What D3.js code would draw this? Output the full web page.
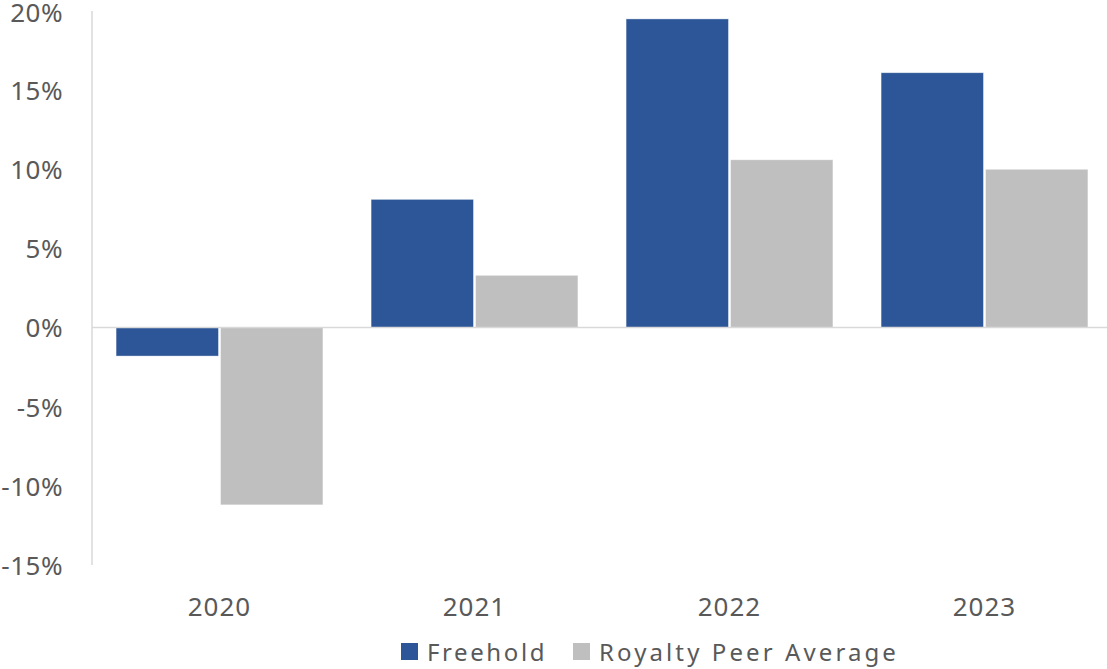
<!DOCTYPE html>
<html><head><meta charset="utf-8">
<script src="https://cdn.jsdelivr.net/npm/d3@7"></script>
<style>body{margin:0;background:#fff;} svg{display:block;}</style>
</head><body><svg id="c" width="1107" height="669"></svg>
<script>
const categories = ["2020","2021","2022","2023"];
const seriesNames = ["Freehold","Royalty Peer Average"];
const freehold = [-1.8, 8.1, 19.5, 16.1];
const royalty = [-11.2, 3.3, 10.6, 10.0];
const yTicks = [-15,-10,-5,0,5,10,15,20];
const colors = ["#2c5697","#bfbfbf"];

const svg = d3.select("#c");
const font = "'Noto Sans', 'Open Sans', sans-serif";
const textColor = "#595959";

const x0 = d3.scaleBand().domain(categories).range([92, 1112]).paddingInner(0).paddingOuter(0);
const x1 = d3.scaleBand().domain(seriesNames).range([22, 255-22]).padding(0.02);
const y = d3.scaleLinear().domain([-15, 20]).range([565, 11]);

const data = categories.map((c,i)=>({cat:c, vals:[freehold[i], royalty[i]]}));

// y axis line
svg.append("line").attr("x1",92).attr("x2",92).attr("y1",y(20)).attr("y2",y(-15))
  .attr("stroke","#d9d9d9").attr("stroke-width",1.5);

// y tick labels
const yAxis = d3.axisLeft(y).tickValues(yTicks).tickFormat(d=>d+"%").tickSize(0).tickPadding(0);
const yg = svg.append("g").attr("transform","translate(63,0)").call(yAxis);
yg.select(".domain").remove();
yg.selectAll("text").attr("font-family",font).attr("font-size",26).attr("fill",textColor)
  .attr("dy","0.36em").attr("letter-spacing",0.5);
yg.selectAll(".tick").filter(d=>d===20).select("text").attr("dy","0.42em");

// bars
const groups = svg.selectAll("g.grp").data(data).enter().append("g")
  .attr("transform",d=>`translate(${x0(d.cat)},0)`);
groups.selectAll("rect").data(d=>d.vals.map((v,j)=>({v,j}))).enter().append("rect")
  .attr("x",d=>x1(seriesNames[d.j]))
  .attr("width",x1.bandwidth())
  .attr("y",d=>y(Math.max(0,d.v)))
  .attr("height",d=>Math.abs(y(d.v)-y(0)))
  .attr("fill",d=>colors[d.j])
  .attr("stroke","#ffffff").attr("stroke-opacity",0.5).attr("stroke-width",0.75);

// zero line
svg.append("line").attr("x1",92).attr("x2",1107).attr("y1",y(0)).attr("y2",y(0))
  .attr("stroke","#d9d9d9").attr("stroke-width",1.5);

// x labels
const xAxis = d3.axisBottom(x0).tickSize(0).tickPadding(0);
const xg = svg.append("g").attr("transform","translate(0,616)").call(xAxis);
xg.select(".domain").remove();
xg.selectAll("text").attr("font-family",font).attr("font-size",26).attr("fill",textColor).attr("dy",0)
  .attr("letter-spacing",1);

// legend
const legX = [401, 573];
const legSpacing = [2.6, 3.1];
const lg = svg.selectAll("g.leg").data(seriesNames).enter().append("g")
  .attr("transform",(d,i)=>`translate(${legX[i]},643)`);
lg.append("rect").attr("width",17).attr("height",17).attr("fill",(d,i)=>colors[i]);
lg.append("text").attr("x",26).attr("y",17.5).text(d=>d)
  .attr("font-family",font).attr("font-size",24).attr("fill",textColor)
  .attr("letter-spacing",(d,i)=>legSpacing[i]);
</script></body></html>
